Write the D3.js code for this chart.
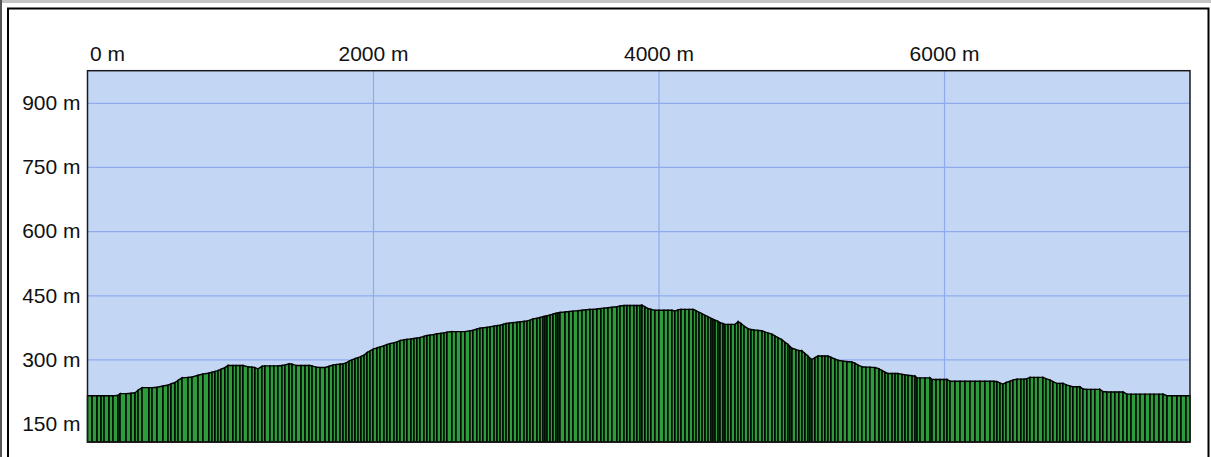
<!DOCTYPE html>
<html>
<head>
<meta charset="utf-8">
<script src="https://cdn.jsdelivr.net/npm/d3@7"></script>
<style>
  html, body { margin: 0; padding: 0; background: #fff; }
  svg { display: block; }
  .tick text { font-family: "Liberation Sans", Arial, sans-serif; font-size: 21px; fill: #111; }
</style>
</head>
<body>
<svg id="chart" width="1211" height="457"></svg>
<script>
// distance along the track (m) and elevation (m), read from the profile
const dist = [0,32,67,95,116,151,179,214,228,270,305,333,354,382,431,452,487,529,564,585,613,634,662,704,732,774,809,851,872,893,914,935,963,984,1019,1040,1068,1089,1124,1152,1173,1194,1222,1243,1278,1306,1334,1362,1383,1412,1433,1461,1496,1524,1552,1573,1601,1629,1664,1692,1720,1741,1769,1790,1811,1832,1853,1874,1895,1916,1937,1958,1979,2000,2028,2049,2077,2098,2119,2147,2168,2189,2217,2238,2266,2287,2308,2329,2357,2378,2399,2427,2448,2476,2497,2518,2553,2581,2616,2644,2679,2700,2728,2749,2770,2799,2820,2848,2869,2890,2911,2932,2953,2981,3009,3030,3058,3079,3100,3121,3149,3170,3191,3205,3219,3240,3261,3282,3296,3310,3345,3373,3401,3436,3464,3492,3520,3541,3569,3597,3618,3646,3674,3709,3730,3758,3779,3800,3828,3849,3870,3884,3905,3926,3947,3975,4003,4038,4066,4094,4115,4137,4158,4186,4214,4242,4263,4284,4305,4326,4347,4368,4382,4396,4417,4431,4452,4466,4487,4508,4536,4557,4578,4599,4627,4648,4669,4697,4725,4746,4767,4795,4816,4837,4865,4886,4907,4921,4935,4963,4984,5005,5026,5047,5061,5075,5096,5117,5145,5166,5187,5208,5236,5257,5292,5320,5355,5376,5397,5425,5453,5481,5516,5545,5566,5587,5608,5636,5657,5678,5706,5727,5748,5776,5797,5811,5832,5867,5902,5916,5944,5972,6000,6021,6042,6077,6112,6147,6182,6217,6252,6287,6322,6350,6371,6392,6413,6434,6462,6483,6511,6539,6560,6581,6602,6630,6658,6693,6714,6742,6763,6791,6812,6833,6854,6882,6903,6931,6952,6973,7001,7029,7057,7092,7113,7141,7169,7197,7225,7254,7282,7310,7345,7373,7408,7443,7471,7506,7534,7562,7597,7632,7660,7695,7723];
const elev = [215,215,215,215,215,215,215,216,220,220,221,222,228,234,234,234,235,238,240,243,246,251,257,258,259,263,266,268,270,272,274,277,281,286,286,286,286,286,283,282,281,278,284,285,285,285,285,286,287,290,289,286,286,286,286,285,282,281,281,284,287,288,289,290,292,296,299,302,304,307,310,316,320,324,327,329,332,335,337,339,341,344,346,347,348,349,350,351,354,356,357,358,360,361,362,364,365,365,365,365,367,368,371,373,374,375,376,378,379,380,382,384,385,386,387,388,389,390,392,395,396,398,400,401,402,404,406,408,409,410,411,412,413,414,415,416,417,417,418,419,420,421,422,423,425,426,426,426,426,426,426,427,423,419,417,415,415,415,415,415,413,416,417,417,417,417,414,410,407,403,400,396,394,392,389,386,384,382,382,382,382,388,384,378,372,370,369,368,367,364,362,359,355,351,346,340,335,330,326,323,321,320,314,308,303,300,304,308,308,308,308,305,301,298,296,295,294,291,287,283,282,282,281,278,274,270,267,267,267,267,265,264,263,262,261,257,257,257,257,253,253,253,253,253,249,249,249,249,249,249,249,249,249,249,248,245,242,246,249,252,254,254,254,255,258,258,258,258,255,252,248,244,244,244,241,238,236,236,236,231,230,230,230,230,225,224,224,224,224,224,219,219,219,219,219,219,219,219,219,215,215,215,215,215,215];

const xTicks = [0, 2000, 4000, 6000];
const yTicks = [150, 300, 450, 600, 750, 900];

const svg = d3.select('#chart');
const margin = { left: 87.5, right: 21, top: 70.7, bottom: 15 };
const width = +svg.attr('width');
const height = +svg.attr('height');

// outer frame
svg.append('rect').attr('x', 0).attr('y', 0).attr('width', width).attr('height', 3).attr('fill', '#c4c4c4');
svg.append('line').attr('x1', 1).attr('x2', 1).attr('y1', 0).attr('y2', height).attr('stroke', '#555').attr('stroke-width', 2);
svg.append('rect').attr('x', 8).attr('y', 8.5).attr('width', 1200.5).attr('height', height + 10)
  .attr('fill', '#fff').attr('stroke', '#000').attr('stroke-width', 2);

const x = d3.scaleLinear().domain([0, 7723]).range([margin.left, width - margin.right]);
const y = d3.scaleLinear().domain([107, 975]).range([height - margin.bottom, margin.top]);
const x0 = x.range()[0], x1 = x.range()[1];
const y0 = y.range()[0], y1 = y.range()[1];

// plot background
svg.append('rect').attr('x', x0).attr('y', y1).attr('width', x1 - x0).attr('height', y0 - y1)
  .attr('fill', '#c3d7f5');

// gridlines
svg.append('g').attr('class', 'grid-x')
  .attr('transform', `translate(0,${y0})`)
  .call(d3.axisBottom(x).tickValues(xTicks.slice(1)).tickSize(-(y0 - y1)).tickFormat(''))
  .call(g => g.select('.domain').remove())
  .call(g => g.selectAll('line').attr('stroke', '#8fabee').attr('stroke-width', 1.2));

svg.append('g').attr('class', 'grid-y')
  .attr('transform', `translate(${x0},0)`)
  .call(d3.axisRight(y).tickValues(yTicks).tickSize(x1 - x0).tickFormat(''))
  .call(g => g.select('.domain').remove())
  .call(g => g.selectAll('line').attr('stroke', '#8fabee').attr('stroke-width', 1.2));

// profile bars: one trapezoid per track segment
const segs = d3.range(dist.length - 1);
svg.append('g').attr('class', 'profile')
  .selectAll('path').data(segs).join('path')
    .attr('d', i => `M${x(dist[i])},${y0}L${x(dist[i])},${y(elev[i])}L${x(dist[i + 1])},${y(elev[i + 1])}L${x(dist[i + 1])},${y0}Z`)
    .attr('fill', '#2d9d3c')
    .attr('stroke', '#000')
    .attr('stroke-width', 1.4)
    .attr('stroke-linejoin', 'miter');

// plot border
svg.append('rect').attr('x', x0).attr('y', y1).attr('width', x1 - x0).attr('height', y0 - y1)
  .attr('fill', 'none').attr('stroke', '#1a1a1a').attr('stroke-width', 1.5);

// axis labels
svg.append('g').attr('class', 'axis-x')
  .attr('transform', `translate(0,${y1})`)
  .call(d3.axisTop(x).tickValues(xTicks).tickSize(0).tickPadding(10).tickFormat(d => d + ' m'))
  .call(g => g.select('.domain').remove())
  .call(g => g.selectAll('text').filter(d => d === 0).attr('text-anchor', 'start').attr('dx', 2));

svg.append('g').attr('class', 'axis-y')
  .attr('transform', `translate(${x0},0)`)
  .call(d3.axisLeft(y).tickValues(yTicks).tickSize(0).tickPadding(7).tickFormat(d => d + ' m'))
  .call(g => g.select('.domain').remove());
</script>
</body>
</html>
